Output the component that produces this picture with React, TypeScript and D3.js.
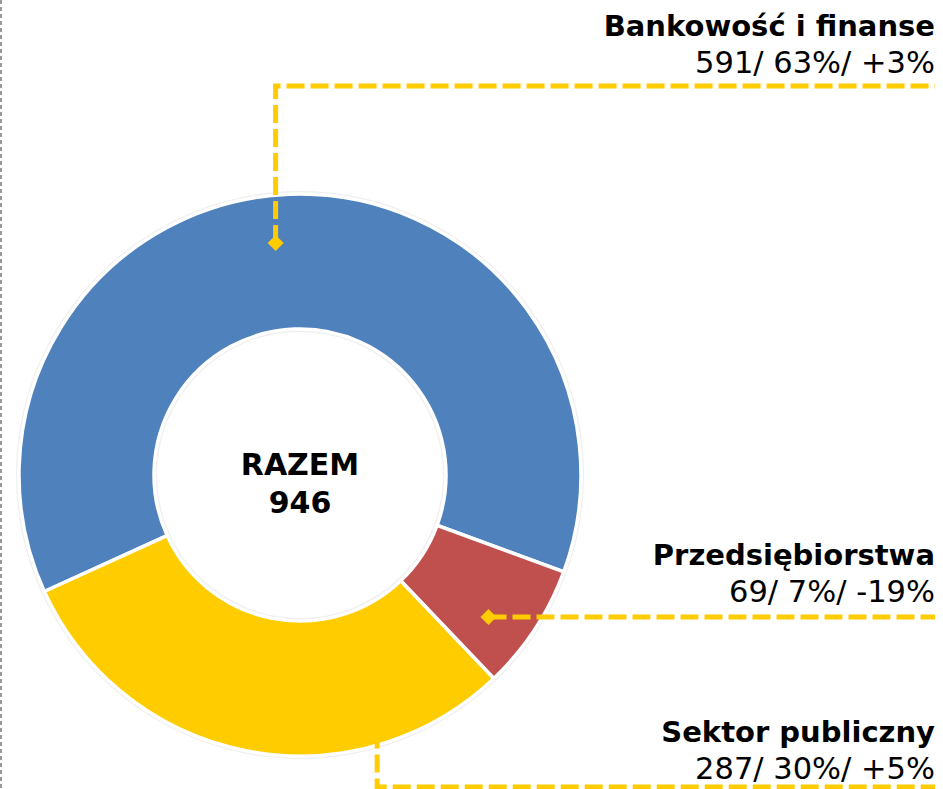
import React from 'react'
import { arc, pie, PieArcDatum } from 'd3'

// segments, clockwise from the lower-left edge of the blue slice
const categories = ['Bankowość i finanse', 'Przedsiębiorstwa', 'Sektor publiczny']
const counts = [591, 69, 287]
const shares = ['63%', '7%', '30%']
const changes = ['+3%', '-19%', '+5%']
const colors = ['#4F81BD', '#C0504D', '#FFCC00']
const total = 946

// where each leader line touches the ring (angle in degrees from 12 o'clock, radius as ring fraction)
const anchorAngles = [-6, 127, 163.2]
const anchorRadius = [0.83, 0.84, 0.95]

type Row = { name: string; amount: number; color: string }

const rows: Row[] = categories.map((name, i) => ({ name, amount: counts[i], color: colors[i] }))

const App = () => {
  const width = 943
  const height = 789
  const cx = 300
  const cy = 475
  const oR = 281
  const iR = 146
  const rightX = 935
  const lineColor = '#FFCC00'

  const startAngle = (-114.5 * Math.PI) / 180
  const py = pie<Row>().value(d => d.amount).sort(null).startAngle(startAngle).endAngle(startAngle + Math.PI * 2)
  const pieArc = arc<PieArcDatum<Row>>().innerRadius(iR).outerRadius(oR)

  const pt = (deg: number, r: number) => {
    const a = (deg * Math.PI) / 180
    return [cx + Math.sin(a) * r, cy - Math.cos(a) * r]
  }

  // label blocks: baseline of the bold line and y of the horizontal leader
  const labelY = [36, 565, 742]
  const leaderY = [86, 617, 787]

  const diamond = (x: number, y: number, s: number) => `M${x},${y - s}L${x + s},${y}L${x},${y + s}L${x - s},${y}Z`

  return (
    <svg width={width} height={height} style={{ position: 'absolute', left: 0, top: 0 }} fontFamily="'DejaVu Sans', Verdana, sans-serif">
      <rect width={width} height={height} fill="#fff" />
      <line x1={1} y1={0} x2={1} y2={height} stroke="#9a9a9a" strokeWidth={2} strokeDasharray="4,3" />

      <g transform={`translate(${cx}, ${cy})`}>
        <circle r={oR + 1.5} fill="none" stroke="#efefef" strokeWidth={3} />
        <circle r={iR - 1.5} fill="none" stroke="#efefef" strokeWidth={3} />
        {py(rows).map((d, idx) => (
          <path key={idx} d={pieArc(d) || ''} fill={d.data.color} stroke="#fff" strokeWidth={3.5} strokeLinejoin="miter" />
        ))}
      </g>

      <text x={cx} y={cy} textAnchor="middle" fontWeight="bold" fontSize={30}>RAZEM</text>
      <text x={cx} y={cy + 38} textAnchor="middle" fontWeight="bold" fontSize={30}>{total}</text>

      {rows.map((r, i) => {
        const [ax, ay] = pt(anchorAngles[i], oR * anchorRadius[i])
        const ly = leaderY[i]
        const flat = Math.abs(ay - ly) < 4
        const path = flat ? `M${ax},${ly}H${rightX}` : `M${ax},${ay}V${ly}H${rightX}`
        return (
          <g key={r.name}>
            <path d={path} fill="none" stroke={lineColor} strokeWidth={5} strokeDasharray="18,6" />
            <path d={diamond(ax, flat ? ly : ay, 8)} fill={lineColor} />
            <text x={rightX} y={labelY[i]} textAnchor="end" fontWeight="bold" fontSize={29}>{r.name}</text>
            <text x={rightX} y={labelY[i] + 37} textAnchor="end" fontSize={30.5}>
              {`${counts[i]}/ ${shares[i]}/ ${changes[i]}`}
            </text>
          </g>
        )
      })}
    </svg>
  )
}

export default App
